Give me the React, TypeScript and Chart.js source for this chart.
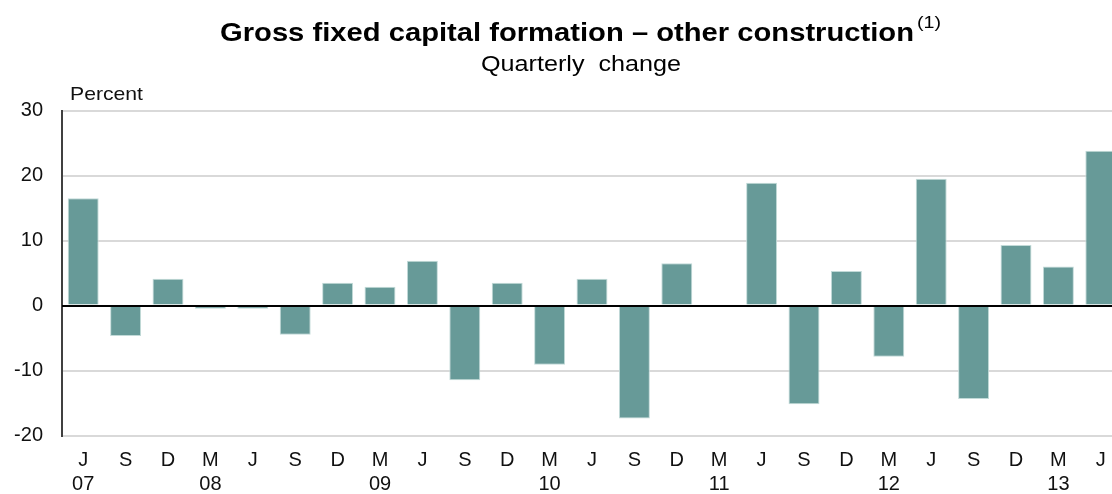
import React, { useEffect, useRef } from 'react';
import { Chart, registerables } from 'chart.js';

Chart.register(...registerables);

const months = ['J', 'S', 'D', 'M', 'J', 'S', 'D', 'M', 'J', 'S', 'D', 'M', 'J', 'S', 'D', 'M', 'J', 'S', 'D', 'M', 'J', 'S', 'D', 'M', 'J'];
const years = ['07', '', '', '08', '', '', '', '09', '', '', '', '10', '', '', '', '11', '', '', '', '12', '', '', '', '13', ''];
const values = [16.5, -4.7, 4.1, -0.5, -0.5, -4.5, 3.5, 2.9, 6.9, -11.5, 3.5, -9.1, 4.1, -17.4, 6.5, 0, 18.9, -15.2, 5.3, -7.9, 19.5, -14.4, 9.3, 6.0, 23.8];
const yMin = -20;
const yMax = 30;
const yStep = 10;
const titleText = 'Gross fixed capital formation – other construction';
const titleNote = '(1)';
const subtitleText = 'Quarterly  change';
const unitLabel = 'Percent';

const FONT = '"Liberation Sans", Arial, Helvetica, sans-serif';

function fitText(ctx: CanvasRenderingContext2D, text: string, x: number, y: number, targetW: number) {
  const w = ctx.measureText(text).width;
  ctx.save();
  ctx.translate(x, y);
  ctx.scale(targetW / w, 1);
  ctx.fillText(text, 0, 0);
  ctx.restore();
}

const textPlugin = {
  id: 'textPlugin',
  afterDraw(chart: any) {
    const ctx: CanvasRenderingContext2D = chart.ctx;
    ctx.save();
    ctx.fillStyle = '#000';
    ctx.textAlign = 'left';
    ctx.textBaseline = 'alphabetic';
    ctx.font = `bold 26px ${FONT}`;
    fitText(ctx, titleText, 220, 41, 694);
    ctx.font = `16px ${FONT}`;
    fitText(ctx, titleNote, 917, 28, 24);
    ctx.font = `22px ${FONT}`;
    fitText(ctx, subtitleText, 481, 71, 200);
    ctx.font = `19px ${FONT}`;
    ctx.fillStyle = '#111';
    fitText(ctx, unitLabel, 70, 100, 73);
    ctx.restore();
  },
};

const zeroLinePlugin = {
  id: 'zeroLine',
  afterDatasetsDraw(chart: any) {
    const { ctx, chartArea, scales } = chart;
    const y = Math.round(scales.y.getPixelForValue(0));
    ctx.save();
    ctx.strokeStyle = '#000';
    ctx.lineWidth = 2;
    ctx.beginPath();
    ctx.moveTo(chartArea.left, y);
    ctx.lineTo(chartArea.right, y);
    ctx.stroke();
    ctx.restore();
  },
};

export default function App() {
  const ref = useRef<HTMLCanvasElement | null>(null);

  useEffect(() => {
    if (!ref.current) return;
    const labels = months.map((m, i) => [m, years[i]]);
    const chart = new Chart(ref.current, {
      type: 'bar',
      data: {
        labels,
        datasets: [
          {
            data: values,
            backgroundColor: '#679a98',
            borderColor: '#c2dad8',
            borderWidth: 1,
            borderSkipped: 'start',
            barPercentage: 0.73,
            categoryPercentage: 1,
          },
        ],
      },
      options: {
        responsive: false,
        animation: false,
        devicePixelRatio: 1,
        layout: { padding: { top: 110.5, left: 0, right: 0, bottom: 0 } },
        plugins: {
          legend: { display: false },
          title: { display: false },
          tooltip: { enabled: false },
        },
        scales: {
          x: {
            offset: true,
            grid: { display: false, drawTicks: false },
            border: { display: false },
            ticks: {
              autoSkip: false,
              maxRotation: 0,
              minRotation: 0,
              padding: 13,
              color: '#111',
              font: { family: FONT, size: 20, lineHeight: 1.2 },
            },
            afterFit(scale: any) {
              scale.height = 58.5;
            },
          },
          y: {
            min: yMin,
            max: yMax,
            ticks: {
              stepSize: yStep,
              padding: 19,
              color: '#111',
              font: { family: FONT, size: 20 },
            },
            grid: {
              drawTicks: false,
              lineWidth: 2,
              color: (c: any) => (c.tick && c.tick.value === 0 ? 'rgba(0,0,0,0)' : '#d9d9d9'),
            },
            border: { display: true, color: '#404040', width: 2 },
            afterFit(scale: any) {
              scale.width = 62;
            },
          },
        },
      },
      plugins: [textPlugin, zeroLinePlugin],
    });
    return () => chart.destroy();
  }, []);

  return (
    <div
      style={{
        position: 'fixed',
        left: 0,
        top: 0,
        width: 1112,
        height: 494,
        overflow: 'hidden',
        background: '#fff',
      }}
    >
      <canvas ref={ref} width={1122} height={494} style={{ display: 'block', width: 1122, height: 494 }} />
    </div>
  );
}
